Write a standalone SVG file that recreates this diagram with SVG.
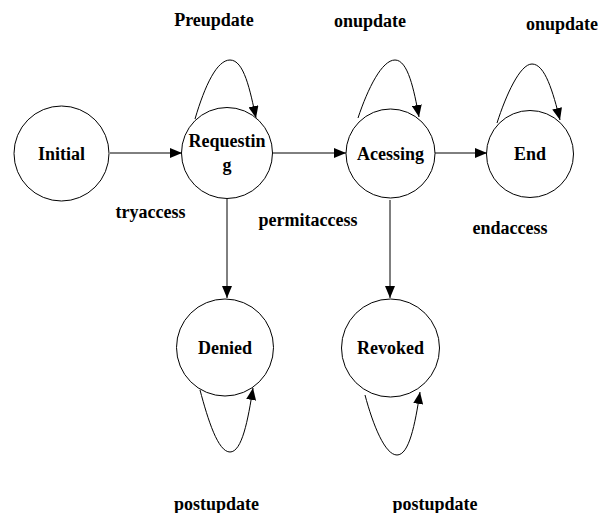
<svg xmlns="http://www.w3.org/2000/svg" width="606" height="513" viewBox="0 0 606 513">
<defs>
<marker id="ah" markerWidth="12" markerHeight="10" refX="12" refY="5" orient="auto" markerUnits="userSpaceOnUse">
<path d="M0,0 L12,5 L0,10 Z" fill="#000"/>
</marker>
<style>
.node circle{fill:#fff;stroke:#000;stroke-width:1}
text{font-family:"Liberation Serif","Times New Roman",serif;font-weight:bold;font-size:18px;fill:#000}
.nt{text-anchor:middle}
.lbl{text-anchor:middle}
.edges path{fill:none;stroke:#000;stroke-width:1;marker-end:url(#ah)}
</style>
</defs>
<rect width="606" height="513" fill="#fff"/>
<g class="edges">
<path d="M110,153 L182,153"/>
<path d="M272,153 L346,153"/>
<path d="M435,153 L487,153"/>
<path d="M227,199 L227,298"/>
<path d="M390,200 L390,298"/>
<path d="M195,119 C205,85 217,60 230,60 C244,60 250,90 256,118"/>
<path d="M358,118 C368,88 382,60 395,60 C408,60 414,90 419,117"/>
<path d="M497,123 C506,95 520,64 532,64 C545,64 553,92 560,120"/>
<path d="M200,390 C208,420 218,452 230,452 C242,452 248,420 253,388"/>
<path d="M365,395 C373,425 385,455 397,455 C409,455 415,425 420,392"/>
</g>
<g id="initial" class="node"><circle cx="61.5" cy="153.5" r="47.5"/><text class="nt" x="61.5" y="159.5">Initial</text></g>
<g id="requesting" class="node"><circle cx="227" cy="153" r="45.5"/><text class="nt" x="227" y="147">Requestin</text><text class="nt" x="227" y="171">g</text></g>
<g id="acessing" class="node"><circle cx="390.5" cy="153.5" r="44.5"/><text class="nt" x="390.5" y="159.5">Acessing</text></g>
<g id="end" class="node"><circle cx="530" cy="154" r="43.5"/><text class="nt" x="530" y="160">End</text></g>
<g id="denied" class="node"><circle cx="225" cy="347.5" r="48.5"/><text class="nt" x="225" y="354">Denied</text></g>
<g id="revoked" class="node"><circle cx="390.5" cy="348" r="49"/><text class="nt" x="390.5" y="354">Revoked</text></g>
<g class="labels">
<text class="lbl" x="214" y="26">Preupdate</text>
<text class="lbl" x="370" y="27">onupdate</text>
<text class="lbl" x="562" y="30">onupdate</text>
<text class="lbl" x="150.5" y="218">tryaccess</text>
<text class="lbl" x="308" y="226">permitaccess</text>
<text class="lbl" x="510" y="234">endaccess</text>
<text class="lbl" x="216.5" y="510">postupdate</text>
<text class="lbl" x="435" y="510">postupdate</text>
</g>
</svg>
